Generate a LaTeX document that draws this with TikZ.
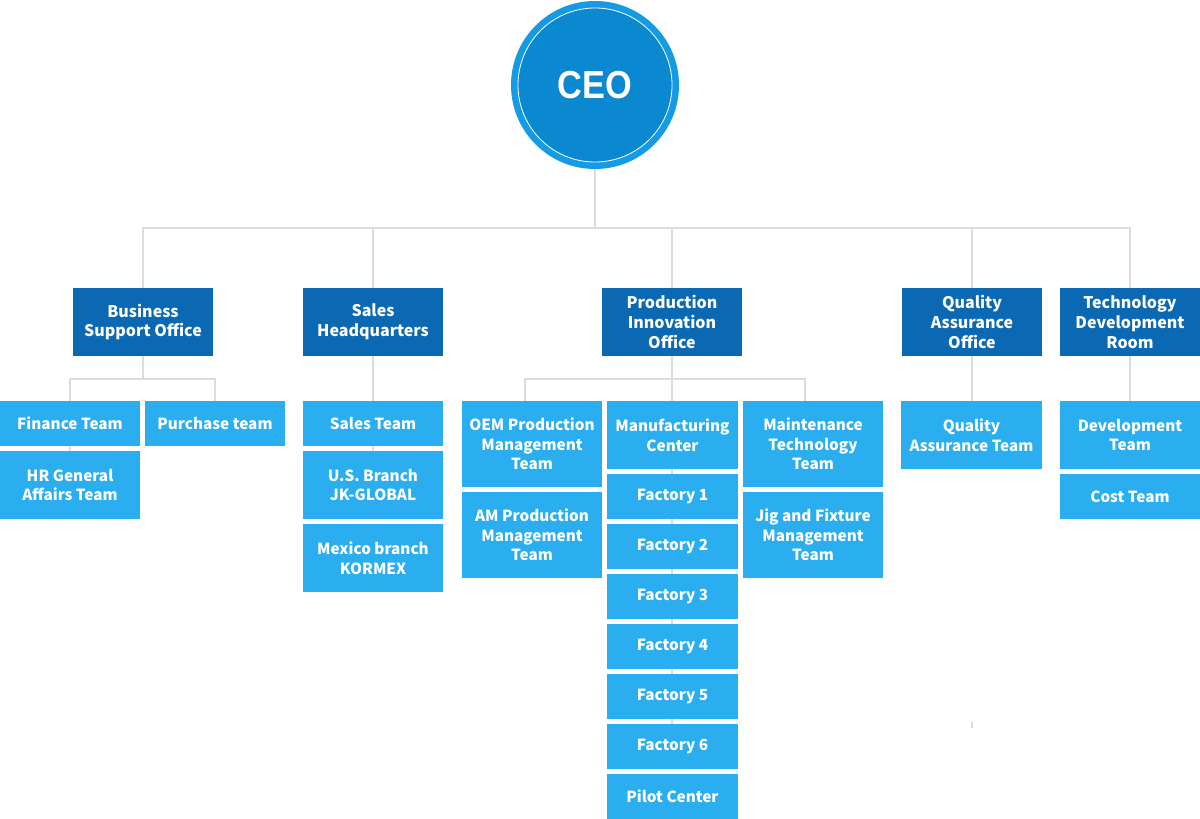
\documentclass[tikz,border=0pt]{standalone}
\usepackage{fontspec}
\setmainfont{Noto Sans CJK KR}
\newfontfamily\ceofont{Liberation Sans}[FakeStretch=0.88]
\usetikzlibrary{backgrounds}
\definecolor{darkbox}{HTML}{0B68B2}
\definecolor{lightbox}{HTML}{2BAEF0}
\definecolor{ringblue}{HTML}{159BE4}
\definecolor{innerblue}{HTML}{0A88D0}
\definecolor{conncol}{HTML}{DCDCDC}
\tikzset{
  orgbox/.style={rectangle, inner sep=0pt, align=center, text=white,
    font=\fontsize{16}{19.8}\selectfont\bfseries, minimum width=140pt},
  dbox/.style={orgbox, fill=darkbox, minimum height=68pt},
  lbox/.style={orgbox, fill=lightbox, font=\fontsize{15.3}{19.5}\selectfont\bfseries},
  hsmall/.style={minimum height=45pt},
  hmid/.style={minimum height=68pt},
  htall/.style={minimum height=86pt},
  conn/.style={draw=conncol, line width=2pt},
  ceostyle/.style={circle, fill=ringblue, minimum size=168pt, inner sep=0pt,
    text=white, font=\ceofont\fontsize{39}{44}\selectfont\bfseries,
    path picture={
      \fill[innerblue] (path picture bounding box.center) circle (77pt);
      \draw[white, line width=0.8pt] (path picture bounding box.center) circle (77pt);
    }}
}
\begin{document}
\begin{tikzpicture}[x=1pt,y=-1pt]
\useasboundingbox (0,0) rectangle (1200,819);
% CEO
\node[ceostyle] (ceo) at (595,85) {CEO};
% Level 2
\node[dbox] (bso) at (143,322) {Business\\Support Office};
\node[dbox] (shq) at (373,322) {Sales\\Headquarters};
\node[dbox] (pio) at (672,322) {Production\\Innovation\\Office};
\node[dbox] (qao) at (972,322) {Quality\\Assurance\\Office};
\node[dbox] (tdr) at (1130,322) {Technology\\Development\\Room};
% Business support
\node[lbox,hsmall] (fin) at (70,423.5) {Finance Team};
\node[lbox,hmid] (hr) at (70,485) {HR General\\Affairs Team};
\node[lbox,hsmall] (pur) at (215,423.5) {Purchase team};
% Sales
\node[lbox,hsmall] (st) at (373,423.5) {Sales Team};
\node[lbox,hmid] (us) at (373,485) {U.S. Branch\\JK-GLOBAL};
\node[lbox,hmid] (mx) at (373,558) {Mexico branch\\KORMEX};
% Production
\node[lbox,htall] (oem) at (532,444) {OEM Production\\Management\\Team};
\node[lbox,htall] (am) at (532,535) {AM Production\\Management\\Team};
\node[lbox,hmid,minimum width=131pt] (mc) at (672.5,435) {Manufacturing\\Center};
\node[lbox,hsmall,minimum width=131pt] (f1) at (672.5,496.5) {Factory 1};
\node[lbox,hsmall,minimum width=131pt] (f2) at (672.5,546.5) {Factory 2};
\node[lbox,hsmall,minimum width=131pt] (f3) at (672.5,596.5) {Factory 3};
\node[lbox,hsmall,minimum width=131pt] (f4) at (672.5,646.5) {Factory 4};
\node[lbox,hsmall,minimum width=131pt] (f5) at (672.5,696.5) {Factory 5};
\node[lbox,hsmall,minimum width=131pt] (f6) at (672.5,746.5) {Factory 6};
\node[lbox,hsmall,minimum width=131pt] (pilot) at (672.5,796.5) {Pilot Center};
\node[lbox,htall] (mtt) at (813,444) {Maintenance\\Technology\\Team};
\node[lbox,htall] (jig) at (813,535) {Jig and Fixture\\Management\\Team};
% Quality
\node[lbox,hmid,minimum width=141pt] (qat) at (971.5,435) {Quality\\Assurance Team};
% Technology
\node[lbox,hmid] (dev) at (1130,435) {Development\\Team};
\node[lbox,hsmall] (cost) at (1130,496.5) {Cost Team};
% stray tick
\coordinate (tickA) at (972,722);
\coordinate (tickB) at (972,728);
\begin{pgfonlayer}{background}
  \draw[conn] (ceo.south) -- ++(0,59) -| (bso.north);
  \draw[conn] (ceo.south) -- ++(0,59) -| (shq.north);
  \draw[conn] (ceo.south) -- ++(0,59) -| (pio.north);
  \draw[conn] (ceo.south) -- ++(0,59) -| (qao.north);
  \draw[conn] (ceo.south) -- ++(0,59) -| (tdr.north);
  \draw[conn] (bso.south) -- ++(0,22.5) -| (fin.north);
  \draw[conn] (bso.south) -- ++(0,22.5) -| (pur.north);
  \draw[conn] (fin.center) -- (hr.center);
  \draw[conn] (shq.south) -- (shq.south |- us.center);
  \draw[conn] (pio.south) -- ++(0,22.5) -| ([xshift=-7pt]oem.north);
  \draw[conn] (pio.south) -- ++(0,22.5) -| ([xshift=-8pt]mtt.north);
  \draw[conn] (pio.south) -- (pio.south |- f6.center);
  \draw[conn] (qao.south) -- (qao.south |- qat.north);
  \draw[conn] (tdr.south) -- (dev.north);
  \draw[conn, line width=1.5pt] (tickA) -- (tickB);
\end{pgfonlayer}
\end{tikzpicture}
\end{document}
